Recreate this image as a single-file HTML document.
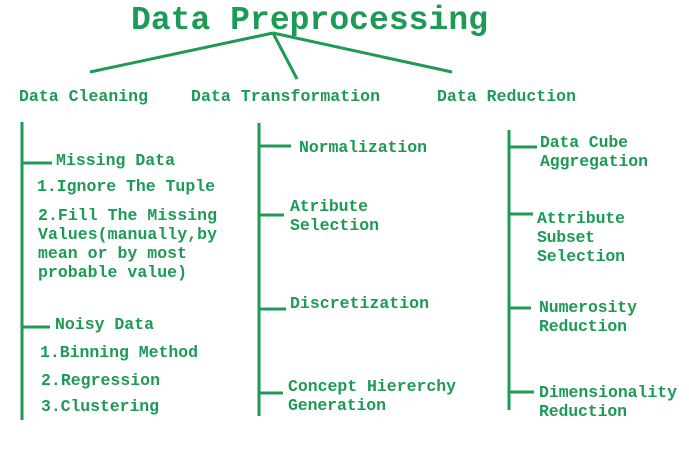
<!DOCTYPE html>
<html><head><meta charset="utf-8"><style>
html,body{margin:0;padding:0;background:#fff;}
svg{display:block}
text{font-family:"Liberation Mono","DejaVu Sans Mono",monospace;font-weight:bold;fill:#1d9a55;font-size:16.5px}
</style></head><body>
<svg width="689" height="466" viewBox="0 0 689 466" xmlns="http://www.w3.org/2000/svg">
<g stroke="#1d9a55" stroke-width="3" fill="none">
<line x1="273" y1="33" x2="90" y2="72"/>
<line x1="273" y1="33" x2="297" y2="79"/>
<line x1="273" y1="33" x2="452" y2="72"/>
<line x1="22" y1="122" x2="22" y2="420"/>
<line x1="22" y1="163" x2="52" y2="163"/>
<line x1="22" y1="327" x2="50" y2="327"/>
<line x1="259" y1="123" x2="259" y2="416"/>
<line x1="259" y1="146" x2="291" y2="146"/>
<line x1="259" y1="215" x2="284" y2="215"/>
<line x1="259" y1="309" x2="286" y2="309"/>
<line x1="259" y1="393" x2="283" y2="393"/>
<line x1="509" y1="130" x2="509" y2="410"/>
<line x1="509" y1="147" x2="537" y2="147"/>
<line x1="509" y1="214" x2="533" y2="214"/>
<line x1="509" y1="308" x2="531" y2="308"/>
<line x1="509" y1="392" x2="534" y2="392"/>
</g>
<text x="131" y="29" style="font-size:33px" textLength="357">Data Preprocessing</text>
<text x="19" y="101" textLength="129">Data Cleaning</text>
<text x="191" y="101" textLength="189">Data Transformation</text>
<text x="437" y="101" textLength="139">Data Reduction</text>
<text x="56" y="165" textLength="119">Missing Data</text>
<text x="37" y="191" textLength="178">1.Ignore The Tuple</text>
<text x="38" y="220" textLength="179">2.Fill The Missing</text>
<text x="38" y="239" textLength="179">Values(manually,by</text>
<text x="38" y="258" textLength="149">mean or by most</text>
<text x="38" y="277" textLength="149">probable value)</text>
<text x="55" y="329" textLength="99">Noisy Data</text>
<text x="40" y="357" textLength="158">1.Binning Method</text>
<text x="41" y="385" textLength="119">2.Regression</text>
<text x="41" y="411" textLength="118">3.Clustering</text>
<text x="299" y="152" textLength="128">Normalization</text>
<text x="290" y="211" textLength="78">Atribute</text>
<text x="290" y="230" textLength="89">Selection</text>
<text x="290" y="308" textLength="139">Discretization</text>
<text x="288" y="391" textLength="168">Concept Hiererchy</text>
<text x="288" y="410" textLength="98">Generation</text>
<text x="540" y="147" textLength="88">Data Cube</text>
<text x="540" y="166" textLength="108">Aggregation</text>
<text x="537" y="223" textLength="88">Attribute</text>
<text x="537" y="242" textLength="58">Subset</text>
<text x="537" y="261" textLength="88">Selection</text>
<text x="539" y="312" textLength="98">Numerosity</text>
<text x="539" y="331" textLength="88">Reduction</text>
<text x="539" y="397" textLength="138">Dimensionality</text>
<text x="539" y="416" textLength="88">Reduction</text>
</svg>
</body></html>
